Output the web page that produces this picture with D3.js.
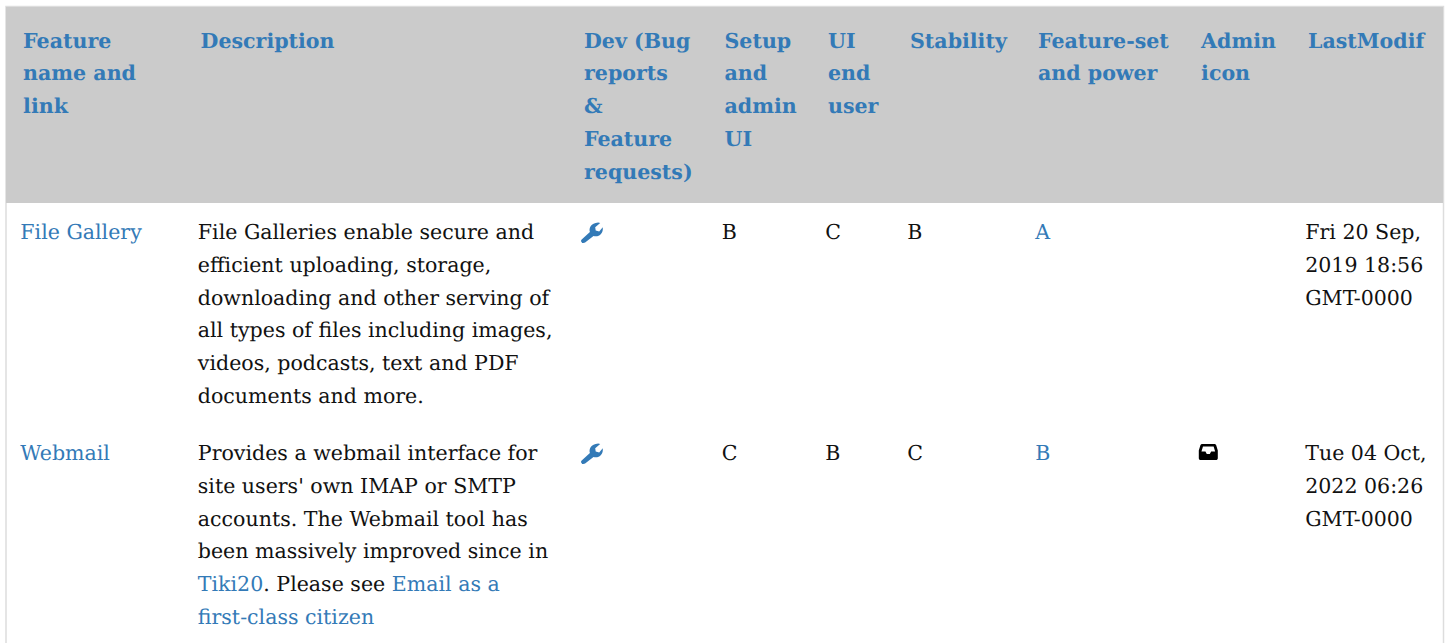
<!DOCTYPE html>
<html>
<head>
<meta charset="utf-8">
<script src="https://cdn.jsdelivr.net/npm/d3@7"></script>
<style>
  html, body { margin: 0; padding: 0; background: #fff; overflow: hidden; }
  text { font-family: "DejaVu Serif", serif; font-size: 20.55px; fill: #111; text-rendering: geometricPrecision; }
  .head { font-weight: bold; fill: #337ab7; }
  .link { fill: #337ab7; }
</style>
</head>
<body>
<div id="svg-container"></div>
<script>
// kolommen en kopteksten, regel voor regel zoals in het plaatje
const columns = ['feature', 'description', 'dev', 'setup', 'ui', 'stability', 'power', 'admin', 'modified']
const headers = [
    ['Feature', 'name and', 'link'],
    ['Description'],
    ['Dev (Bug', 'reports', '&', 'Feature', 'requests)'],
    ['Setup', 'and', 'admin', 'UI'],
    ['UI', 'end', 'user'],
    ['Stability'],
    ['Feature-set', 'and power'],
    ['Admin', 'icon'],
    ['LastModif']
]

// rijen, [..] is een link
const featureNames = ['File Gallery', 'Webmail']
const descriptions = [
    ['File Galleries enable secure and', 'efficient uploading, storage,', 'downloading and other serving of',
        'all types of files including images,', 'videos, podcasts, text and PDF', 'documents and more.'],
    ['Provides a webmail interface for', "site users' own IMAP or SMTP", 'accounts. The Webmail tool has',
        'been massively improved since in', '[Tiki20]. Please see [Email as a]', '[first-class citizen]']
]
const setupGrades = ['B', 'C']
const uiGrades = ['C', 'B']
const stabilityGrades = ['B', 'C']
const powerGrades = ['A', 'B']
const adminIcons = [null, 'inbox']
const lastModified = [
    ['Fri 20 Sep,', '2019 18:56', 'GMT-0000'],
    ['Tue 04 Oct,', '2022 06:26', 'GMT-0000']
]

const width = 1448
const height = 643
const svg = d3.select('#svg-container').append('svg')
    .attr('width', width).attr('height', height).style('display', 'block')

const colX = d3.scaleOrdinal().domain(columns).range([20.3, 197.8, 581.2, 721.7, 825.2, 907.2, 1035.2, 1198.3, 1305.2])
const rowTop = i => [203, 424][i]
const line = d3.scaleLinear().domain([0, 1]).range([0, 32.75])

// rand + kop
svg.append('rect').attr('x', 6).attr('y', 6.5).attr('width', 1437.5).attr('height', 700)
    .attr('fill', '#fff').attr('stroke', '#ddd').attr('stroke-width', 1.5)
svg.append('rect').attr('x', 6).attr('y', 7).attr('width', 1437).attr('height', 196).attr('fill', '#cbcbcb')

const addLines = (g, lines, cls) => {
    g.selectAll('text').data(lines).enter().append('text')
        .attr('class', cls)
        .attr('y', (d, i) => line(i))
        .each(function (d) {
            // splits de regel in gewone tekst en links
            const parts = d.split(/(\[[^\]]*\])/).filter(p => p !== '')
            d3.select(this).selectAll('tspan').data(parts).enter().append('tspan')
                .attr('class', p => p[0] === '[' ? 'link' : null)
                .text(p => p.replace(/[\[\]]/g, ''))
        })
}

columns.forEach((c, i) => {
    const g = svg.append('g').attr('transform', `translate(${colX(c) + 2.8}, 47.5)`)
    addLines(g, headers[i], 'head')
})

const wrench = 'M-10 7.5 L-1.8 0 C-3 -4 -1 -9 6.5 -9.6 L8.5 -9 L3.5 -4.8 L4 -1.6 L7.5 -0.5 L11 -4.8 C12 1.5 7 5.5 1.8 4 L-6.6 10.5 C-9 12 -12 9.5 -10 7.5 Z'
const inbox = 'M-6.4 -8 L6.4 -8 C7.4 -8 8 -7.4 8.4 -6.6 L10 -1.5 L10 6 C10 7.4 9.2 8 8 8 L-8 8 C-9.2 8 -10 7.4 -10 6 L-10 -1.5 L-8.4 -6.6 C-8 -7.4 -7.4 -8 -6.4 -8 Z M-5.6 -5.6 L-7.2 -0.6 L-3 -0.6 L-1.6 2 L1.6 2 L3 -0.6 L7.2 -0.6 L5.6 -5.6 Z'

featureNames.forEach((name, i) => {
    const y = rowTop(i) + 36
    const row = svg.append('g').attr('transform', `translate(0, ${y})`)
    const col = (c, lines, cls) => addLines(row.append('g').attr('transform', `translate(${colX(c)}, 0)`), lines, cls)

    col('feature', ['[' + name + ']'])
    col('description', descriptions[i])
    col('setup', [setupGrades[i]])
    col('ui', [uiGrades[i]])
    col('stability', [stabilityGrades[i]])
    col('power', ['[' + powerGrades[i] + ']'])
    col('modified', lastModified[i])

    row.append('path').attr('d', wrench).attr('fill', '#337ab7')
        .attr('transform', `translate(${colX('dev') + 10.5}, -7)`)
    if (adminIcons[i] === 'inbox') {
        row.append('path').attr('d', inbox).attr('fill', '#000').attr('fill-rule', 'evenodd')
            .attr('transform', `translate(${colX('admin') + 10}, -8) scale(0.95 1)`)
    }
})
</script>
</body>
</html>
